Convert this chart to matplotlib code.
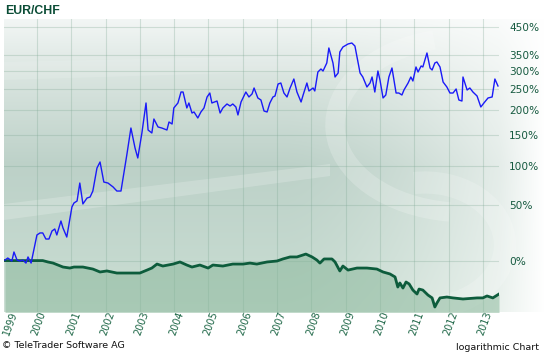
import numpy as np
import matplotlib.pyplot as plt
from matplotlib.transforms import blended_transform_factory
from matplotlib.patches import Polygon, Arc

# blue series: performance in % (log scale on 1 + pct/100)
blue_years = [1999.07, 1999.15, 1999.27, 1999.33, 1999.42, 1999.50, 1999.59, 1999.68, 1999.74, 1999.83,
              2000.00, 2000.09, 2000.17, 2000.26, 2000.35, 2000.44, 2000.52, 2000.58, 2000.70, 2000.76,
              2000.87, 2001.02, 2001.08, 2001.17, 2001.25, 2001.34, 2001.46, 2001.55, 2001.63, 2001.75,
              2001.84, 2001.95, 2002.07, 2002.22, 2002.33, 2002.45, 2002.62, 2002.74, 2002.86, 2002.94,
              2003.06, 2003.18, 2003.24, 2003.35, 2003.41, 2003.53, 2003.64, 2003.79, 2003.85, 2003.94,
              2003.99, 2004.11, 2004.20, 2004.26, 2004.37, 2004.43, 2004.52, 2004.58, 2004.69, 2004.78,
              2004.87, 2004.96, 2005.04, 2005.10, 2005.25, 2005.34, 2005.42, 2005.54, 2005.63, 2005.71,
              2005.80, 2005.86, 2005.95, 2006.09, 2006.18, 2006.27, 2006.33, 2006.44, 2006.53, 2006.62,
              2006.71, 2006.79, 2006.88, 2006.94, 2007.03, 2007.11, 2007.20, 2007.29, 2007.38, 2007.49,
              2007.58, 2007.70, 2007.76, 2007.87, 2007.93, 2008.05, 2008.10, 2008.19, 2008.28, 2008.34,
              2008.45, 2008.51, 2008.63, 2008.69, 2008.78, 2008.83, 2008.92, 2009.07, 2009.18, 2009.27,
              2009.33, 2009.42, 2009.50, 2009.62, 2009.71, 2009.77, 2009.85, 2009.94, 2010.00, 2010.09,
              2010.17, 2010.26, 2010.35, 2010.47, 2010.55, 2010.64, 2010.70, 2010.82, 2010.90, 2010.96,
              2011.05, 2011.11, 2011.20, 2011.25, 2011.37, 2011.46, 2011.52, 2011.60, 2011.66, 2011.75,
              2011.84, 2011.95, 2012.04, 2012.13, 2012.22, 2012.30, 2012.39, 2012.42, 2012.54, 2012.62,
              2012.71, 2012.83, 2012.94, 2013.03, 2013.15, 2013.27, 2013.35, 2013.44]
blue_pct = [0.7, 2.2, 0.0, 6.8, 0.7, 0.0, 0.7, -1.5, 3.0, -1.5,
            20.9, 22.7, 22.7, 17.4, 17.4, 24.5, 26.3, 20.9, 33.9, 27.2,
            19.1, 48.3, 52.7, 54.9, 76.6, 51.6, 58.3, 59.5, 66.6, 97.0,
            105.9, 77.9, 76.6, 71.6, 66.6, 66.6, 116.7, 163.8, 128.0, 112.0,
            154.4, 216.6, 160.0, 154.4, 181.7, 165.8, 163.8, 160.0, 175.6, 171.6,
            205.3, 216.6, 243.0, 243.0, 205.3, 216.6, 194.3, 196.5, 183.8, 196.5,
            205.3, 230.8, 240.5, 216.6, 221.2, 194.3, 205.3, 214.3, 209.8, 214.3,
            207.5, 190.1, 218.9, 243.0, 230.8, 238.1, 253.2, 228.4, 223.6, 198.6,
            196.5, 216.6, 230.8, 233.2, 263.6, 266.3, 240.5, 230.8, 253.2, 277.1,
            243.0, 218.9, 235.6, 266.3, 245.6, 253.2, 245.6, 296.9, 305.7, 299.8,
            323.9, 372.9, 323.9, 282.7, 294.0, 359.3, 376.3, 386.9, 390.4, 379.7,
            342.8, 294.0, 282.7, 255.8, 266.3, 282.7, 243.0, 299.8, 274.4, 228.4,
            235.6, 282.7, 308.7, 240.5, 240.5, 235.6, 248.1, 266.3, 282.7, 271.7,
            311.7, 296.9, 314.7, 311.7, 355.9, 308.7, 302.7, 323.9, 327.0, 311.7,
            269.0, 255.8, 240.5, 240.5, 250.6, 223.6, 221.2, 282.7, 248.1, 253.2,
            243.0, 233.2, 207.5, 216.6, 228.4, 230.8, 277.1, 258.4]

# EUR/CHF change in %
chf_years = [1999.07, 1999.30, 2000.17, 2000.32, 2000.47, 2000.76, 2000.96, 2001.08, 2001.34, 2001.63,
             2001.84, 2002.04, 2002.33, 2002.62, 2002.80, 2003.00, 2003.21, 2003.35, 2003.50, 2003.67,
             2003.97, 2004.17, 2004.37, 2004.52, 2004.75, 2004.99, 2005.13, 2005.42, 2005.71, 2006.01,
             2006.21, 2006.41, 2006.71, 2007.00, 2007.17, 2007.38, 2007.58, 2007.84, 2008.02, 2008.16,
             2008.25, 2008.37, 2008.60, 2008.69, 2008.83, 2008.92, 2009.07, 2009.33, 2009.62, 2009.91,
             2010.09, 2010.29, 2010.44, 2010.52, 2010.58, 2010.67, 2010.76, 2010.85, 2010.96, 2011.08,
             2011.14, 2011.25, 2011.40, 2011.52, 2011.60, 2011.66, 2011.75, 2011.95, 2012.13, 2012.42,
             2012.83, 2013.00, 2013.12, 2013.29, 2013.47]
chf_pct = [0.3, 0.3, 0.3, -0.7, -1.5, -4.3, -5.0, -4.3, -4.3, -5.7,
           -7.7, -7.0, -8.4, -8.4, -8.4, -8.4, -6.4, -5.0, -2.2, -3.6,
           -2.2, -0.7, -2.9, -4.3, -2.9, -5.0, -2.9, -3.6, -2.2, -2.2,
           -1.5, -2.2, -0.7, 0.0, 1.5, 3.0, 3.0, 5.2, 3.0, 0.7,
           -1.5, 1.5, 1.5, -0.7, -7.0, -3.6, -6.4, -5.0, -5.0, -5.7,
           -7.7, -9.0, -11.0, -17.3, -14.8, -17.9, -14.2, -15.4, -19.1, -21.4,
           -18.5, -19.1, -22.0, -23.6, -28.5, -26.4, -23.6, -23.1, -23.6, -24.2,
           -23.6, -23.6, -22.5, -23.6, -21.4]

grid_pct = [0, 50, 100, 150, 200, 250, 300, 350, 450]
grid_years = list(range(2000, 2014))
year_labels = list(range(1999, 2014))

W, H = 544, 353
fig = plt.figure(figsize=(W / 100, H / 100), dpi=100)
fig.patch.set_facecolor('white')

# background gradient with watermark swooshes
bg = fig.add_axes([4 / W, 1 - 312 / H, 540 / W, 293 / H])
bw, bh = 540, 293
v = np.linspace(0, 1, bh)
stops_v = [0, 0.2, 0.5, 0.8, 1]
stops_c = np.array([[0.95, 0.965, 0.96], [0.85, 0.895, 0.875], [0.74, 0.82, 0.785],
                    [0.77, 0.85, 0.81], [0.80, 0.87, 0.83]])
col = np.stack([np.interp(v, stops_v, stops_c[:, k]) for k in range(3)], axis=-1)
img = np.repeat(col[:, None, :], bw, axis=1)
u = np.arange(bw)
w = np.clip((u - 280) / 215, 0, 1) ** 1.6 * 0.6
w = np.where(u > 495, 0.6 + (u - 495) / 45 * 0.4, w)
w = np.clip(w, 0, 1)[None, :, None]
img = img * (1 - w) + w
bg.imshow(img, extent=[4, 544, 312, 19], aspect='auto', interpolation='bilinear')
bg.set_xlim(4, 544)
bg.set_ylim(312, 19)
bg.axis('off')
bg.add_patch(Polygon([(4, 204), (330, 164), (330, 176), (4, 220)], closed=True,
                     facecolor='white', alpha=0.2, lw=0))
bg.add_patch(Polygon([(4, 62), (330, 55), (330, 70), (4, 80)], closed=True,
                     facecolor='white', alpha=0.12, lw=0))
bg.add_patch(Arc((465, 125), 260, 175, theta1=100, theta2=250, lw=14, color='white', alpha=0.2))
bg.add_patch(Arc((425, 245), 160, 125, theta1=-100, theta2=80, lw=16, color='white', alpha=0.18))

ax = fig.add_axes([4 / W, 1 - 312 / H, 495 / W, 293 / H])
ax.patch.set_alpha(0)
ax.set_yscale('log')
ax.set_xlim(1999.04, 2013.47)
ax.set_ylim(0.6894, 5.842)

blue_f = 1 + np.array(blue_pct) / 100
chf_f = 1 + np.array(chf_pct) / 100

ax.fill_between(chf_years, chf_f, 0.5, color='#86b698', alpha=0.5, lw=0, zorder=2)
ax.plot(blue_years, blue_f, color='#1a1af8', lw=1.0, zorder=4)
ax.plot(chf_years, chf_f, color='#0d5c3c', lw=2.0, zorder=3)

ax.set_yticks([1 + p / 100 for p in grid_pct])
ax.set_yticklabels(['%d%%' % p for p in grid_pct])
ax.yaxis.set_minor_locator(plt.NullLocator())
ax.yaxis.tick_right()
ax.tick_params(axis='y', length=0, pad=7.2, labelsize=7.6, labelcolor='#165a40')
ax.set_xticks(grid_years)
ax.tick_params(axis='x', length=0, labelbottom=False)
ax.grid(True, color='#7fa894', alpha=0.3, lw=0.8, zorder=1)
ax.set_axisbelow(True)
for s in ax.spines.values():
    s.set_visible(False)

trans = blended_transform_factory(ax.transData, ax.transAxes)
for yr in year_labels:
    xpos = max(yr, 1999.15) + 0.06
    ax.text(xpos, -0.038, str(yr), transform=trans, rotation=70, ha='center', va='center',
            fontsize=7, color='#1d6646')

fig.text(5 / W, 1 - 11 / H, 'EUR/CHF', fontsize=8.8, fontweight='bold', color='#0b4d36',
         family='Liberation Sans', va='center', ha='left')
fig.text(2 / W, 1 - 345 / H, '\u00a9 TeleTrader Software AG', fontsize=6.8, color='#111111',
         va='center', ha='left')
fig.text(539 / W, 1 - 347 / H, 'logarithmic Chart', fontsize=6.8, color='#111111',
         va='center', ha='right')

fig.savefig('out.png', dpi=100, facecolor='white')
